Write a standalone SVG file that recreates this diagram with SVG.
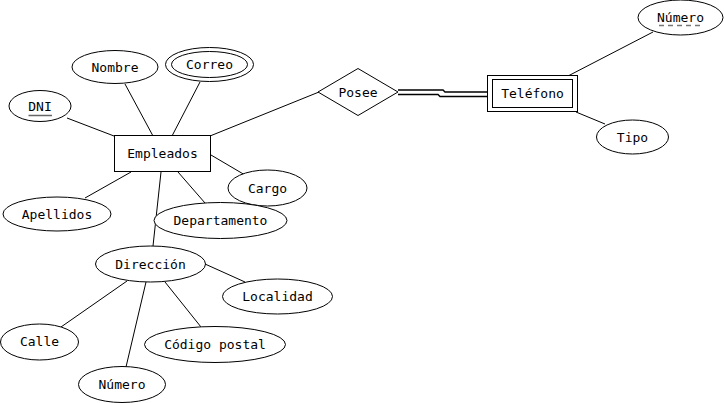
<svg xmlns="http://www.w3.org/2000/svg" width="724" height="403" viewBox="0 0 724 403">
<style>
.s{fill:#fff;stroke:#000;stroke-width:1}
.t{font-family:"DejaVu Sans Mono","Liberation Mono",monospace;font-size:13px;fill:#000;text-anchor:middle}
.c line,.c polyline{stroke:#000;stroke-width:1;fill:none}
</style>
<rect width="724" height="403" fill="#fff"/>
<g class="c" id="connectors">
<line x1="67" y1="118" x2="114" y2="136"/>
<line x1="125" y1="84" x2="153" y2="136"/>
<line x1="200" y1="82" x2="172" y2="136"/>
<line x1="210" y1="136" x2="319" y2="92"/>
<line x1="211" y1="155" x2="245" y2="175"/>
<line x1="131" y1="172" x2="85" y2="198"/>
<line x1="178" y1="172" x2="205" y2="203"/>
<line x1="161" y1="172" x2="153" y2="246"/>
<line x1="205" y1="264" x2="245" y2="282"/>
<line x1="127" y1="281" x2="61" y2="327"/>
<line x1="146" y1="282" x2="126" y2="367"/>
<line x1="165" y1="282" x2="201" y2="327"/>
<line x1="568" y1="76" x2="653" y2="32"/>
<line x1="576" y1="112" x2="605" y2="124"/>
<polyline points="398,90 443,90 445,92 488,92" style="stroke-width:1.4"/>
<polyline points="398,94.5 438,94.5 440,96.5 488,96.5" style="stroke-width:1.4"/>
</g>
<g id="dni"><ellipse class="s" cx="40" cy="106" rx="31" ry="15.5"/><text class="t" x="40" y="110.5">DNI</text><line x1="28.5" y1="115.5" x2="52" y2="115.5" stroke="#666" stroke-width="1.5"/></g>
<g id="nombre"><ellipse class="s" cx="115" cy="67" rx="43" ry="16.5"/><text class="t" x="115" y="71.5">Nombre</text></g>
<g id="correo"><ellipse class="s" cx="209.5" cy="64.5" rx="44" ry="17"/><ellipse class="s" cx="209.5" cy="64.5" rx="38" ry="13"/><text class="t" x="209.5" y="69">Correo</text></g>
<g id="empleados"><rect class="s" x="114.5" y="135.5" width="96" height="36"/><text class="t" x="162.5" y="158">Empleados</text></g>
<g id="posee"><polygon class="s" points="318,92 358,68.5 398,92 358,115.5"/><text class="t" x="358" y="97">Posee</text></g>
<g id="telefono"><rect class="s" x="487.5" y="75.5" width="90" height="36"/><rect class="s" x="492.5" y="79.5" width="80" height="28"/><text class="t" x="532.5" y="98">Teléfono</text></g>
<g id="numero-tel"><ellipse class="s" cx="680.5" cy="17.5" rx="42.5" ry="17.5"/><text class="t" x="680.5" y="22">Número</text><line x1="659" y1="25.5" x2="703" y2="25.5" stroke="#777" stroke-width="1.3" stroke-dasharray="5,4"/></g>
<g id="tipo"><ellipse class="s" cx="632.5" cy="137" rx="36" ry="17"/><text class="t" x="632.5" y="141.5">Tipo</text></g>
<g id="apellidos"><ellipse class="s" cx="57" cy="214" rx="54" ry="17"/><text class="t" x="57" y="218.5">Apellidos</text></g>
<g id="cargo"><ellipse class="s" cx="267.5" cy="188" rx="39.5" ry="18"/><text class="t" x="267.5" y="192.5">Cargo</text></g>
<g id="departamento"><ellipse class="s" cx="220.5" cy="220.5" rx="66.5" ry="18"/><text class="t" x="220.5" y="225">Departamento</text></g>
<g id="direccion"><ellipse class="s" cx="150.5" cy="264" rx="55" ry="18"/><text class="t" x="150.5" y="268.5">Dirección</text></g>
<g id="localidad"><ellipse class="s" cx="277.5" cy="296.5" rx="55" ry="17.5"/><text class="t" x="277.5" y="301">Localidad</text></g>
<g id="calle"><ellipse class="s" cx="39.5" cy="342" rx="39" ry="18"/><text class="t" x="39.5" y="346">Calle</text></g>
<g id="codigo-postal"><ellipse class="s" cx="215" cy="344.5" rx="70.5" ry="18"/><text class="t" x="215" y="349">Código postal</text></g>
<g id="numero-dir"><ellipse class="s" cx="122" cy="384.5" rx="43.5" ry="18"/><text class="t" x="122" y="389">Número</text></g>
</svg>
